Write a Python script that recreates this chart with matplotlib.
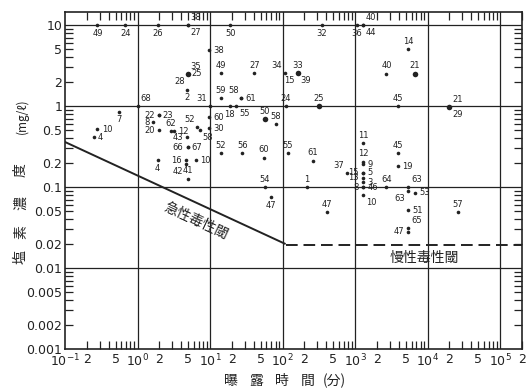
import numpy as np
import matplotlib.pyplot as plt
from matplotlib.ticker import FixedLocator, FuncFormatter

plt.rcParams['font.family'] = ['DejaVu Sans', 'Noto Sans CJK JP']

# point id, exposure time (min), chlorine concentration (mg/l)
pt_labels = ['49', '24', '26', '27', '38', '50', '32', '36', '44', '40',
             '38', '35', '25', '28', '2', '49', '27', '34', '33', '15', '39',
             '14', '40', '21', '59', '58', '61', '31', '18', '55', '24', '25',
             '45', '21', '29', '68', '7', '10', '4', '22', '23', '8', '20',
             '62', '12', '52', '58', '60', '30', '50', '58', '43', '66', '67',
             '16', '10', '42', '41', '4', '52', '56', '60', '55', '61', '54',
             '47', '1', '47', '11', '45', '12', '9', '19', '37', '15', '5',
             '13', '3', '8', '46', '10', '64', '63', '63', '53', '51', '65',
             '47', '57']
exposure_min = [0.28, 0.68, 1.9, 4.9, 4.9, 19, 350, 1050, 1280, 1280,
                9.6, 4.9, 4.9, 4.9, 4.75, 14, 41, 107, 162, 162, 162,
                5400, 2700, 6700, 14, 27, 27, 10, 18.7, 23, 110, 316,
                3900, 20000, 20000, 1.0, 0.56, 0.28, 0.25, 1.95, 1.95, 1.66, 1.95,
                2.9, 3.2, 6.7, 7.2, 9.6, 9.6, 57, 81, 4.8, 4.9, 4.9,
                4.6, 6.3, 4.6, 4.9, 1.9, 14, 28, 55, 118, 263, 57,
                69, 215, 410, 1290, 3900, 1290, 1290, 3900, 770, 1290, 1290,
                1290, 1290, 1290, 1290, 1290, 2700, 5400, 5400, 6700, 5400, 5400,
                5400, 26000]
chlorine_mgl = [10, 10, 10, 10, 10, 10, 10, 10, 10, 10,
                4.9, 2.5, 2.5, 2.5, 1.6, 2.55, 2.55, 2.55, 2.55, 2.55, 2.55,
                5.0, 2.5, 2.5, 1.25, 1.25, 1.25, 1.0, 1.0, 1.0, 1.0, 1.0,
                1.0, 0.97, 0.97, 1.0, 0.85, 0.52, 0.41, 0.77, 0.77, 0.63, 0.5,
                0.49, 0.49, 0.55, 0.5, 0.73, 0.53, 0.69, 0.6, 0.41, 0.31, 0.31,
                0.215, 0.215, 0.19, 0.126, 0.215, 0.26, 0.26, 0.23, 0.26, 0.21, 0.1,
                0.075, 0.1, 0.049, 0.35, 0.26, 0.205, 0.19, 0.18, 0.15, 0.15, 0.15,
                0.13, 0.115, 0.1, 0.1, 0.08, 0.1, 0.1, 0.09, 0.085, 0.052, 0.031,
                0.028, 0.049]

# threshold lines
acute_x = [0.1, 107]
acute_y = [0.36, 0.02]
chronic_x = [112, 2e5]
chronic_y = [0.019, 0.019]

# layout: where each id sits relative to its dot
label_side = ['b', 'b', 'b', 'br', 'ar', 'b', 'b', 'b', 'br', 'ar',
              'r', 'ar', 'r', 'bl', 'b', 'a', 'a', 'al', 'a', 'bl', 'br',
              'a', 'a', 'a', 'a', 'al', 'r', 'al', 'b', 'br', 'a', 'a',
              'a', 'ar', 'br', 'ar', 'b', 'r', 'r', 'l', 'r', 'l', 'l',
              'a', 'r', 'al', 'br', 'r', 'r', 'a', 'a', 'l', 'l', 'r',
              'l', 'r', 'bl', 'a', 'b', 'a', 'a', 'a', 'a', 'a', 'a',
              'b', 'a', 'a', 'a', 'a', 'a', 'r', 'r', 'al', 'l', 'r',
              'l', 'r', 'l', 'r', 'br', 'a', 'ar', 'bl', 'r', 'r', 'ar',
              'l', 'a']
big_dots = {'25', '33', '50', '21'}

offsets = {'r': (3, 0, 'left', 'center'), 'l': (-3, 0, 'right', 'center'),
           'a': (0, 2.5, 'center', 'bottom'), 'b': (0, -2.5, 'center', 'top'),
           'ar': (2, 2, 'left', 'bottom'), 'al': (-2, 2, 'right', 'bottom'),
           'br': (2, -2, 'left', 'top'), 'bl': (-2, -2, 'right', 'top')}

ink = '#222222'
W, H = 527, 392
fig = plt.figure(figsize=(W / 100, H / 100), dpi=100)
ax = fig.add_axes([65 / W, 1 - 349 / H, (522 - 65) / W, (349 - 12) / H])
ax.set_xscale('log')
ax.set_yscale('log')
ax.set_xlim(0.1, 2e5)
ax.set_ylim(0.001, 14.5)

# grid at decades
for d in [1, 10, 100, 1e3, 1e4, 1e5]:
    ax.axvline(d, color=ink, lw=0.9, zorder=1)
for d in [10, 1, 0.1, 0.01]:
    ax.axhline(d, color=ink, lw=0.9, zorder=1)

ax.plot(acute_x, acute_y, color=ink, lw=1.4, zorder=2)
ax.plot(chronic_x, chronic_y, color=ink, lw=1.4, ls=(0, (6, 3)), zorder=2)

for lab, x, y, side in zip(pt_labels, exposure_min, chlorine_mgl, label_side):
    ms = 4.0 if (lab in big_dots and side in ('r', 'a', 'ar')) else 2.6
    ax.plot(x, y, 'o', color=ink, ms=ms, mec='none', zorder=3)
    dx, dy, ha, va = offsets[side]
    ax.annotate(lab, (x, y), xytext=(dx, dy), textcoords='offset points',
                ha=ha, va=va, fontsize=6, color=ink, zorder=4)

ax.text(6.3, 0.038, '急性毒性閾', rotation=-25, ha='center', va='center',
        fontsize=10, family=['Noto Sans CJK JP'], color=ink)
ax.text(9100, 0.0135, '慢性毒性閾', ha='center', va='center',
        fontsize=10, family=['Noto Sans CJK JP'], color=ink)

# ticks
xdec = [1e-1, 1, 10, 1e2, 1e3, 1e4, 1e5]
ax.xaxis.set_major_locator(FixedLocator(xdec))
ax.xaxis.set_major_formatter(FuncFormatter(
    lambda v, p: '$10^{%d}$' % int(round(np.log10(v)))))
xminor = [m * d for d in xdec for m in range(2, 10) if m * d <= 2e5]
ax.xaxis.set_minor_locator(FixedLocator(xminor))
ax.xaxis.set_minor_formatter(FuncFormatter(
    lambda v, p: ('%d' % round(v / 10 ** np.floor(np.log10(v) + 1e-9)))
    if round(v / 10 ** np.floor(np.log10(v) + 1e-9)) in (2, 5) else ''))

ydec = [0.001, 0.01, 0.1, 1, 10]
ax.yaxis.set_major_locator(FixedLocator(ydec))
ax.yaxis.set_major_formatter(FuncFormatter(lambda v, p: '%g' % v))
yminor = [m * d for d in ydec for m in range(2, 10) if m * d <= 14]
ax.yaxis.set_minor_locator(FixedLocator(yminor))
ax.yaxis.set_minor_formatter(FuncFormatter(
    lambda v, p: ('%g' % v)
    if round(v / 10 ** np.floor(np.log10(v) + 1e-9)) in (2, 5) else ''))

ax.tick_params(which='major', length=0, labelsize=9, colors=ink, pad=3)
ax.tick_params(which='minor', direction='in', length=6, width=0.9,
               top=True, right=True, labelsize=9, colors=ink, pad=3)
ax.tick_params(axis='y', which='both', pad=2)
for s in ax.spines.values():
    s.set_linewidth(1.2)
    s.set_color(ink)

# axis titles
cjk = ['Noto Sans CJK JP', 'DejaVu Sans']
for ch, py in [('塩', 257), ('素', 232), ('濃', 203), ('度', 170)]:
    fig.text(21 / W, 1 - py / H, ch, rotation=90, ha='center', va='center',
             fontsize=10, family=cjk, color=ink)
fig.text(22 / W, 1 - 116 / H, '(mg/ℓ)', rotation=90, ha='center', va='center',
         fontsize=8.5, family=cjk, color=ink)
for ch, px in [('曝', 231), ('露', 256), ('時', 282), ('間', 308), ('(分)', 334)]:
    fig.text(px / W, 1 - 381 / H, ch, ha='center', va='center',
             fontsize=10, family=cjk, color=ink)

fig.savefig('out.png', dpi=100)
